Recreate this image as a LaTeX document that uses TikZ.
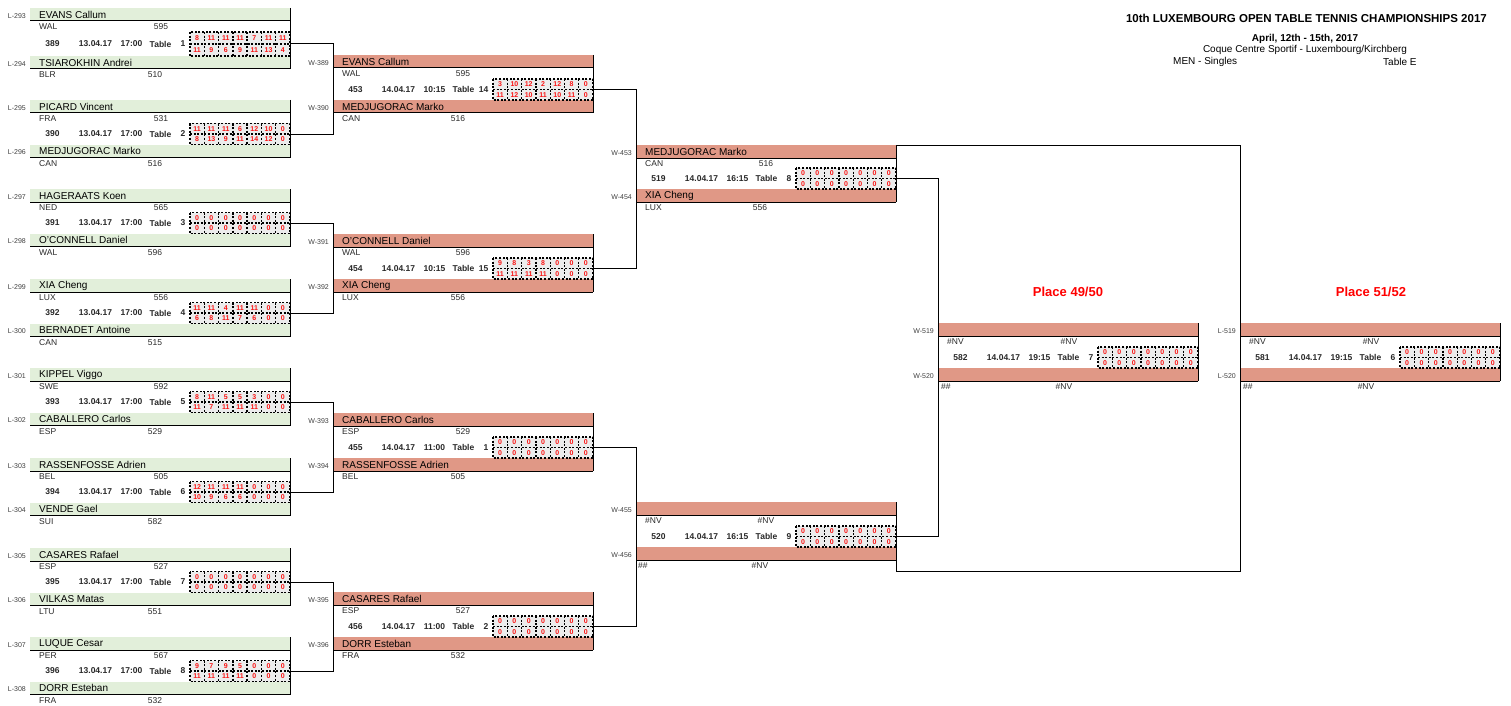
\documentclass[tikz,border=0pt]{standalone}
\usepackage{fontspec}
\setmainfont{Liberation Sans}
\definecolor{bargreen}{RGB}{226,239,218}
\definecolor{barsalmon}{RGB}{224,152,134}
\definecolor{labgray}{RGB}{64,64,64}
\definecolor{txtgray}{RGB}{40,40,40}
\definecolor{scfill}{RGB}{236,236,236}
\definecolor{scred}{RGB}{250,20,20}
\tikzset{
  bar/.style={anchor=north west, minimum width=260, minimum height=13, inner sep=0, outer sep=0},
  pname/.style={anchor=west, inner sep=0, font=\fontsize{10}{12}\selectfont, text=black},
  ctry/.style={anchor=west, inner sep=0, font=\fontsize{8.5}{10}\selectfont, text=txtgray},
  rating/.style={anchor=center, inner sep=0, font=\fontsize{8.5}{10}\selectfont, text=txtgray},
  lab/.style={anchor=east, inner sep=0, font=\fontsize{7}{8}\selectfont, text=labgray},
  info/.style={anchor=center, inner sep=0, font=\bfseries\fontsize{8.5}{10}\selectfont, text=txtgray},
  sbox/.style={anchor=north west, minimum width=100, inner sep=0, outer sep=0, fill=scfill},
  dashline/.style={line width=1.3pt, dash pattern=on 2pt off 1.6pt},
  scnum/.style={inner sep=0, font=\bfseries\fontsize{7}{8}\selectfont, text=scred},
  wire/.style={line width=1pt},
  place/.style={inner sep=0, font=\bfseries\fontsize{13}{15}\selectfont, text=red},
  head/.style={inner sep=0, text=black},
}
\newcommand\setm[4]{\def\mL{#1}\def\mT{#2}\def\mG{#3}\def\mR{#4}}
% id, y-top, fill, label, name, country, rating, rating x-offset
\newcommand\mplayer[8]{%
  \node[bar, fill=#3] (#1) at (\mL,#2) {};
  \draw[wire] (#1.south west) -- (#1.south east);
  \node[lab] (#1l) at (\mL-4,#2+8) {#4};
  \node[pname] (#1n) at (\mL+9,#2+6.8) {#5};
  \node[ctry] (#1c) at (\mL+9,#2+19) {#6};
  \node[rating] (#1r) at (\mL+#8,#2+19) {#7};
}
% id, number, date, time, table
\newcommand\minfo[5]{%
  \pgfmathsetmacro\iy{\mT+\mG-\mR}%
  \node[info] (#1num) at (\mL+22.5,\iy) {#2};
  \node[info] (#1date) at (\mL+65.5,\iy) {#3};
  \node[info] (#1time) at (\mL+101.5,\iy) {#4};
  \node[info] (#1tab) at (\mL+130.5,\iy) {Table};
  \node[info, anchor=east] (#1tno) at (\mL+155.5,\iy) {#5};
}
% id, top scores, bottom scores
\newcommand\mscore[3]{%
  \pgfmathsetmacro\sy{\mT+\mG-2*\mR}%
  \pgfmathsetmacro\sh{2*\mR}%
  \node[sbox, minimum height=\sh pt] (#1) at (\mL+160,\sy) {};
  \foreach \v [count=\i] in {#2} \node[scnum] (#1t\i) at (\mL+160+\i*14.2857-7.1429,\sy+0.5*\mR+0.3) {\v};
  \foreach \v [count=\i] in {#3} \node[scnum] (#1b\i) at (\mL+160+\i*14.2857-7.1429,\sy+1.5*\mR+0.3) {\v};
  \draw[dashline] (#1.north west) rectangle (#1.south east);
  \draw[dashline] (#1.west) -- (#1.east);
  \foreach \i in {1,...,6} \draw[dashline] ([xshift=\i*14.2857pt]#1.north west) -- ([xshift=\i*14.2857pt]#1.south west);
}
\begin{document}
\begin{tikzpicture}[x=1pt,y=-1pt]
\useasboundingbox (0,0) rectangle (1511,706);

% ---------- headings ----------
\node[head, anchor=east, font=\bfseries\fontsize{11.5}{13}\selectfont] (title) at (1487,18.5) {10th LUXEMBOURG OPEN TABLE TENNIS CHAMPIONSHIPS 2017};
\node[head, font=\bfseries\fontsize{10}{12}\selectfont] (dates) at (1305,39) {April, 12th - 15th, 2017};
\node[head, font=\fontsize{10}{12}\selectfont] (venue) at (1305,49.5) {Coque Centre Sportif - Luxembourg/Kirchberg};
\node[head, anchor=west, font=\fontsize{10}{12}\selectfont] (event) at (1173,62) {MEN - Singles};
\node[head, anchor=west, font=\fontsize{10}{12}\selectfont] (tab) at (1383,62) {Table E};
\node[place] (pl4950) at (1068,292) {Place 49/50};
\node[place] (pl5152) at (1371,292) {Place 51/52};

% ---------- round 1 ----------
\setm{30}{8}{48}{12}
\mplayer{m389a}{\mT}{bargreen}{L-293}{EVANS Callum}{WAL}{595}{131}
\mplayer{m389b}{\mT+\mG}{bargreen}{L-294}{TSIAROKHIN Andrei}{BLR}{510}{125}
\draw[wire] (m389a.north east) -- (m389b.south east);
\minfo{m389}{389}{13.04.17}{17:00}{1}
\mscore{s389}{8,11,11,11,7,11,11}{11,9,6,9,11,13,4}

\setm{30}{100}{44.5}{10.5}
\mplayer{m390a}{\mT}{bargreen}{L-295}{PICARD Vincent}{FRA}{531}{131}
\mplayer{m390b}{\mT+\mG}{bargreen}{L-296}{MEDJUGORAC Marko}{CAN}{516}{125}
\draw[wire] (m390a.north east) -- (m390b.south east);
\minfo{m390}{390}{13.04.17}{17:00}{2}
\mscore{s390}{11,11,11,6,12,10,0}{8,13,9,11,14,12,0}

\setm{30}{189}{44.5}{10.5}
\mplayer{m391a}{\mT}{bargreen}{L-297}{HAGERAATS Koen}{NED}{565}{131}
\mplayer{m391b}{\mT+\mG}{bargreen}{L-298}{O'CONNELL Daniel}{WAL}{596}{125}
\draw[wire] (m391a.north east) -- (m391b.south east);
\minfo{m391}{391}{13.04.17}{17:00}{3}
\mscore{s391}{0,0,0,0,0,0,0}{0,0,0,0,0,0,0}

\setm{30}{279}{44.5}{10.5}
\mplayer{m392a}{\mT}{bargreen}{L-299}{XIA Cheng}{LUX}{556}{131}
\mplayer{m392b}{\mT+\mG}{bargreen}{L-300}{BERNADET Antoine}{CAN}{515}{125}
\draw[wire] (m392a.north east) -- (m392b.south east);
\minfo{m392}{392}{13.04.17}{17:00}{4}
\mscore{s392}{11,11,4,11,11,0,0}{6,8,11,7,6,0,0}

\setm{30}{368}{44.5}{10.5}
\mplayer{m393a}{\mT}{bargreen}{L-301}{KIPPEL Viggo}{SWE}{592}{131}
\mplayer{m393b}{\mT+\mG}{bargreen}{L-302}{CABALLERO Carlos}{ESP}{529}{125}
\draw[wire] (m393a.north east) -- (m393b.south east);
\minfo{m393}{393}{13.04.17}{17:00}{5}
\mscore{s393}{8,11,5,5,3,0,0}{11,7,11,11,11,0,0}

\setm{30}{458}{44.5}{10.5}
\mplayer{m394a}{\mT}{bargreen}{L-303}{RASSENFOSSE Adrien}{BEL}{505}{131}
\mplayer{m394b}{\mT+\mG}{bargreen}{L-304}{VENDE Gael}{SUI}{582}{125}
\draw[wire] (m394a.north east) -- (m394b.south east);
\minfo{m394}{394}{13.04.17}{17:00}{6}
\mscore{s394}{12,11,11,11,0,0,0}{10,9,6,6,0,0,0}

\setm{30}{548}{44.5}{10.5}
\mplayer{m395a}{\mT}{bargreen}{L-305}{CASARES Rafael}{ESP}{527}{131}
\mplayer{m395b}{\mT+\mG}{bargreen}{L-306}{VILKAS Matas}{LTU}{551}{125}
\draw[wire] (m395a.north east) -- (m395b.south east);
\minfo{m395}{395}{13.04.17}{17:00}{7}
\mscore{s395}{0,0,0,0,0,0,0}{0,0,0,0,0,0,0}

\setm{30}{637}{44.5}{10.5}
\mplayer{m396a}{\mT}{bargreen}{L-307}{LUQUE Cesar}{PER}{567}{131}
\mplayer{m396b}{\mT+\mG}{bargreen}{L-308}{DORR Esteban}{FRA}{532}{125}
\draw[wire] (m396a.north east) -- (m396b.south east);
\minfo{m396}{396}{13.04.17}{17:00}{8}
\mscore{s396}{9,7,9,5,0,0,0}{11,11,11,11,0,0,0}

% ---------- round 2 ----------
\setm{333}{55}{45}{10.5}
\mplayer{m453a}{\mT}{barsalmon}{W-389}{EVANS Callum}{WAL}{595}{130}
\mplayer{m453b}{\mT+\mG}{barsalmon}{W-390}{MEDJUGORAC Marko}{CAN}{516}{125}
\draw[wire] (m453a.north east) -- (m453b.south east);
\minfo{m453}{453}{14.04.17}{10:15}{14}
\mscore{s453}{3,10,12,2,12,8,0}{11,12,10,11,10,11,0}

\setm{333}{234}{45}{10.5}
\mplayer{m454a}{\mT}{barsalmon}{W-391}{O'CONNELL Daniel}{WAL}{596}{130}
\mplayer{m454b}{\mT+\mG}{barsalmon}{W-392}{XIA Cheng}{LUX}{556}{125}
\draw[wire] (m454a.north east) -- (m454b.south east);
\minfo{m454}{454}{14.04.17}{10:15}{15}
\mscore{s454}{9,8,3,8,0,0,0}{11,11,11,11,0,0,0}

\setm{333}{413}{45}{10.5}
\mplayer{m455a}{\mT}{barsalmon}{W-393}{CABALLERO Carlos}{ESP}{529}{130}
\mplayer{m455b}{\mT+\mG}{barsalmon}{W-394}{RASSENFOSSE Adrien}{BEL}{505}{125}
\draw[wire] (m455a.north east) -- (m455b.south east);
\minfo{m455}{455}{14.04.17}{11:00}{1}
\mscore{s455}{0,0,0,0,0,0,0}{0,0,0,0,0,0,0}

\setm{333}{592}{45}{10.5}
\mplayer{m456a}{\mT}{barsalmon}{W-395}{CASARES Rafael}{ESP}{527}{130}
\mplayer{m456b}{\mT+\mG}{barsalmon}{W-396}{DORR Esteban}{FRA}{532}{125}
\draw[wire] (m456a.north east) -- (m456b.south east);
\minfo{m456}{456}{14.04.17}{11:00}{2}
\mscore{s456}{0,0,0,0,0,0,0}{0,0,0,0,0,0,0}

% ---------- round 3 ----------
\setm{636}{145}{44}{10.5}
\mplayer{m519a}{\mT}{barsalmon}{W-453}{MEDJUGORAC Marko}{CAN}{516}{130}
\mplayer{m519b}{\mT+\mG}{barsalmon}{W-454}{XIA Cheng}{LUX}{556}{124}
\draw[wire] (m519a.north east) -- (m519b.south east);
\minfo{m519}{519}{14.04.17}{16:15}{8}
\mscore{s519}{0,0,0,0,0,0,0}{0,0,0,0,0,0,0}

\setm{636}{502}{45}{10.5}
\mplayer{m520a}{\mT}{barsalmon}{W-455}{}{\#NV}{\#NV}{130}
\mplayer{m520b}{\mT+\mG}{barsalmon}{W-456}{}{\kern-7pt\#\#}{\#NV}{124}
\draw[wire] (m520a.north east) -- (m520b.south east);
\minfo{m520}{520}{14.04.17}{16:15}{9}
\mscore{s520}{0,0,0,0,0,0,0}{0,0,0,0,0,0,0}

% ---------- placement matches ----------
\setm{938}{323}{45}{10.5}
\mplayer{m582a}{\mT}{barsalmon}{W-519}{}{\#NV}{\#NV}{131}
\mplayer{m582b}{\mT+\mG}{barsalmon}{W-520}{}{\kern-6pt\#\#}{\#NV}{126}
\draw[wire] (m582a.north east) -- (m582b.south east);
\minfo{m582}{582}{14.04.17}{19:15}{7}
\mscore{s582}{0,0,0,0,0,0,0}{0,0,0,0,0,0,0}

\setm{1240}{323}{45}{10.5}
\mplayer{m581a}{\mT}{barsalmon}{L-519}{}{\#NV}{\#NV}{131}
\mplayer{m581b}{\mT+\mG}{barsalmon}{L-520}{}{\kern-6pt\#\#}{\#NV}{126}
\draw[wire] (m581a.north east) -- (m581b.south east);
\minfo{m581}{581}{14.04.17}{19:15}{6}
\mscore{s581}{0,0,0,0,0,0,0}{0,0,0,0,0,0,0}

% ---------- connectors ----------
\draw[wire] (s389.east) -- ++(43,0) |- (s390.east);
\draw[wire] (s391.east) -- ++(43,0) |- (s392.east);
\draw[wire] (s393.east) -- ++(43,0) |- (s394.east);
\draw[wire] (s395.east) -- ++(43,0) |- (s396.east);
\draw[wire] (s453.east) -- ++(43,0) |- (s454.east);
\draw[wire] (s455.east) -- ++(43,0) |- (s456.east);
\draw[wire] (s519.east) -- ++(42,0) |- (s520.east);
\coordinate (fa) at (1240,145);
\coordinate (fb) at (1240,571);
\coordinate (fc) at (896,571);
\draw[wire] (m519a.north east) -- (fa) -- (fb) -- (fc) -- (m520b.south east);
\end{tikzpicture}
\end{document}
